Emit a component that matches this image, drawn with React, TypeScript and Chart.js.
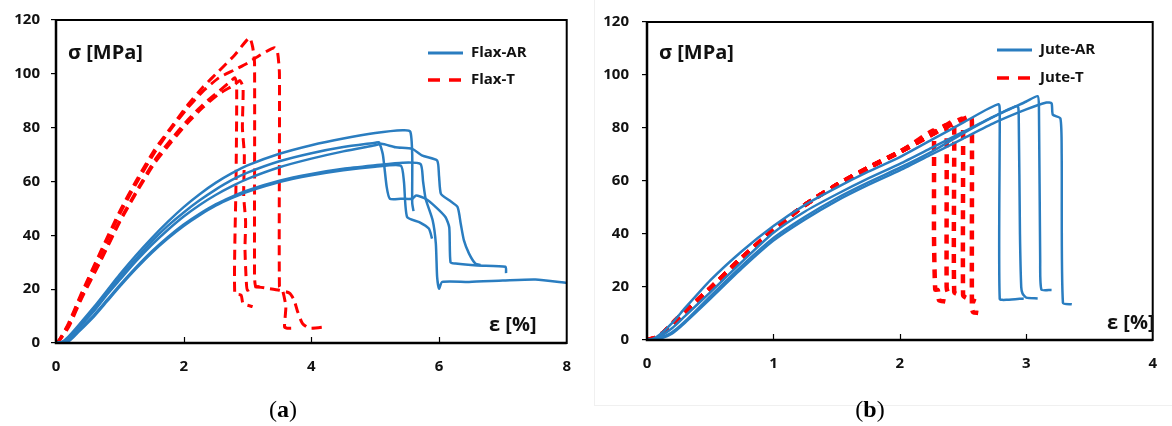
import React, { useEffect, useRef } from "react";
import { Chart, registerables } from "chart.js";

Chart.register(...registerables);

const FONT = "'Open Sans', 'Liberation Sans', 'DejaVu Sans', sans-serif";
const BLUE = "#2a7dc0";
const RED = "#ff0000";
const INK = "#111111";

// ---------- Tick values ----------
const stressTicks = [0, 20, 40, 60, 80, 100, 120];
const flaxStrainTicks = [0, 2, 4, 6, 8];
const juteStrainTicks = [0, 1, 2, 3, 4];

// ---------- Legend / titles ----------
const flaxLegend = ["Flax-AR", "Flax-T"];
const juteLegend = ["Jute-AR", "Jute-T"];
const stressTitle = "σ [MPa]";
const strainTitle = "ε [%]";
const captions = ["a", "b"];

// ---------- (a) Flax-AR specimens ----------
const flaxAR1X = [0, 0.1, 0.2, 0.35, 0.6, 0.8, 1.0, 1.25, 1.5, 1.75, 2.0, 2.25, 2.5, 2.75, 3.0, 3.5, 4.0, 4.5, 5.0, 5.43, 5.55, 5.58, 5.58, 5.6];
const flaxAR1Y = [0, 0.5, 2.5, 6.5, 13.5, 19.5, 25.5, 32.5, 39, 45, 50.5, 55.3, 59.5, 63, 66, 70.3, 73.5, 76, 78, 79, 78.5, 70, 52, 49];

const flaxAR2X = [0, 0.1, 0.2, 0.35, 0.6, 0.8, 1.0, 1.25, 1.5, 1.75, 2.0, 2.25, 2.5, 2.75, 3.0, 3.5, 4.0, 4.5, 5.0, 5.06, 5.12, 5.18, 5.23, 5.4, 5.58, 5.64, 5.79, 5.95, 6.1, 6.16, 6.18, 6.26, 6.6, 7.04, 7.05];
const flaxAR2Y = [0, 0.3, 2, 6, 12.5, 18.5, 24.5, 31.3, 37.8, 43.5, 48.5, 53, 57, 60.5, 63.3, 67.5, 70.5, 72.8, 74.4, 74.6, 70, 58, 53.6, 53.6, 53.6, 54.8, 53.6, 50.5, 46.8, 43, 30, 29.5, 28.8, 28.3, 26];

const flaxAR3X = [0, 0.1, 0.2, 0.35, 0.6, 0.8, 1.0, 1.25, 1.5, 1.75, 2.0, 2.25, 2.5, 2.75, 3.0, 3.5, 4.0, 4.5, 5.0, 5.1, 5.32, 5.58, 5.74, 5.97, 6.0, 6.03, 6.16, 6.29, 6.34, 6.39, 6.47, 6.57, 6.65];
const flaxAR3Y = [0, 0.2, 1.8, 5.5, 12, 18, 23.5, 30.3, 36.5, 42, 47, 51.3, 55, 58.2, 61, 65.3, 68.5, 71.2, 73.5, 74, 72.7, 72.1, 69.6, 67.8, 62, 55.4, 53, 50.5, 44.3, 38.1, 33.2, 29.5, 29];

const flaxAR4X = [0, 0.12, 0.22, 0.35, 0.6, 0.8, 1.0, 1.25, 1.5, 1.75, 2.0, 2.25, 2.5, 2.75, 3.0, 3.5, 4.0, 4.5, 5.0, 5.43, 5.71, 5.75, 5.79, 5.9, 5.95, 5.97, 6.0, 6.05, 6.47, 7.0, 7.51, 8.0];
const flaxAR4Y = [0, 0, 1.2, 4.5, 10.5, 16, 21.5, 28, 34, 39.3, 44, 48, 51.5, 54.3, 56.7, 60.3, 62.8, 64.7, 66, 67, 66.5, 60, 53.6, 45.6, 36.9, 24.6, 20.2, 22.7, 22.7, 23.2, 23.6, 22.3];

const flaxAR5X = [0, 0.12, 0.22, 0.35, 0.6, 0.8, 1.0, 1.25, 1.5, 1.75, 2.0, 2.25, 2.5, 2.75, 3.0, 3.5, 4.0, 4.5, 5.0, 5.4, 5.45, 5.5, 5.69, 5.84, 5.89];
const flaxAR5Y = [0, 0, 1, 4, 10, 15.5, 21, 27.5, 33.5, 38.8, 43.5, 47.5, 51, 53.8, 56.2, 59.8, 62.3, 64.2, 65.5, 65.9, 60, 46.8, 44.9, 42.5, 38.8];

// ---------- (a) Flax-T specimens ----------
const flaxT1X = [0, 0.05, 0.2, 0.4, 0.7, 1.0, 1.25, 1.55, 1.8, 2.05, 2.3, 2.55, 2.8, 3.03, 3.08, 3.11, 3.11, 3.13, 3.24];
const flaxT1Y = [0, 1, 7.5, 18.5, 34, 49, 60, 72, 80, 88, 95, 101, 107, 113.4, 110, 104, 25, 21, 21];

const flaxT2X = [0, 0.05, 0.2, 0.4, 0.7, 1.0, 1.25, 1.55, 1.8, 2.05, 2.3, 2.55, 2.8, 3.0, 3.2, 3.42, 3.47, 3.5, 3.5, 3.55, 3.6, 3.58, 3.62, 3.73];
const flaxT2Y = [0, 1, 7, 18, 33, 48, 59, 71, 79.5, 87, 93.5, 98.5, 101.5, 104, 107, 109.7, 108, 100, 21, 19.5, 13.5, 6, 5.5, 5.5];

const flaxT3X = [0, 0.05, 0.2, 0.4, 0.7, 1.0, 1.25, 1.55, 1.8, 2.05, 2.3, 2.55, 2.75, 2.8, 2.83, 2.82, 2.8, 2.9, 2.93, 3.08];
const flaxT3Y = [0, 1, 6.5, 17, 31, 45.5, 56, 68, 75.5, 82.5, 88.5, 93.5, 97.5, 98.6, 96, 60, 18.4, 17.8, 14.7, 13.5];

const flaxT4X = [0, 0.05, 0.2, 0.4, 0.7, 1.0, 1.25, 1.55, 1.8, 2.05, 2.3, 2.55, 2.8, 2.88, 2.93, 2.92, 2.95, 2.94, 2.97, 2.96, 2.98, 3.0, 3.11, 3.34, 3.5, 3.66, 3.73, 3.78, 3.86, 3.97, 4.23];
const flaxT4Y = [0, 0.8, 6, 16.5, 30.5, 45, 55.5, 67, 74.5, 81.5, 87.5, 92.5, 96, 97.5, 95, 80, 70, 55, 45, 35, 23.3, 19.6, 20.9, 20.2, 19.6, 18.5, 15.9, 12, 7.3, 5.5, 6];

// ---------- (b) Jute-AR specimens ----------
const juteAR1X = [0, 0.05, 0.1, 0.2, 0.3, 0.5, 0.75, 1.0, 1.25, 1.5, 1.75, 2.0, 2.25, 2.5, 2.78, 2.79, 2.79, 2.85, 2.98];
const juteAR1Y = [0, 0.5, 2, 6.5, 12, 22.5, 33.5, 43, 51, 57.5, 63.5, 69, 75.5, 82, 89, 85, 15.5, 15.2, 15.7];

const juteAR2X = [0, 0.05, 0.1, 0.2, 0.3, 0.5, 0.75, 1.0, 1.25, 1.5, 1.75, 2.0, 2.25, 2.5, 2.75, 2.93, 2.94, 2.95, 2.96, 2.97, 3.0, 3.09];
const juteAR2Y = [0, 0.3, 1.2, 4.5, 9, 18, 29.5, 40.5, 48.5, 55, 61, 66.5, 72.5, 78.5, 84.5, 88.3, 85, 40, 20, 17.6, 16, 15.7];

const juteAR3X = [0, 0.05, 0.1, 0.2, 0.3, 0.5, 0.75, 1.0, 1.25, 1.5, 1.75, 2.0, 2.25, 2.5, 2.75, 3.0, 3.09, 3.1, 3.11, 3.12, 3.2];
const juteAR3Y = [0, 0, 0.6, 3, 7, 16.5, 28, 38.5, 46.5, 53.5, 59.5, 65, 71, 78, 84.5, 90, 92, 88, 30, 19, 18.9];

const juteAR4X = [0, 0.05, 0.1, 0.2, 0.3, 0.5, 0.75, 1.0, 1.25, 1.5, 1.75, 2.0, 2.25, 2.5, 2.75, 3.0, 3.16, 3.2, 3.21, 3.27, 3.28, 3.29, 3.36];
const juteAR4Y = [0, 0, 0.4, 2.5, 6.5, 15.5, 27, 37.5, 45.5, 52.5, 58.5, 64, 70, 76, 82, 87, 89.6, 89.3, 85, 83.6, 70, 14, 13.5];

// ---------- (b) Jute-T specimens ----------
const juteT1X = [0, 0.05, 0.1, 0.25, 0.5, 0.75, 1.0, 1.25, 1.5, 1.75, 2.0, 2.26, 2.27, 2.27, 2.28, 2.3, 2.31, 2.36];
const juteT1Y = [0, 0.5, 1.5, 8.5, 19.5, 31, 41.5, 51, 58.5, 65, 71, 79, 78, 40, 19, 18.9, 15, 14.5];

const juteT2X = [0, 0.05, 0.1, 0.25, 0.5, 0.75, 1.0, 1.25, 1.5, 1.75, 2.0, 2.25, 2.36, 2.37, 2.37, 2.38, 2.42];
const juteT2Y = [0, 0.5, 1.5, 8.5, 19.5, 31, 41.5, 51, 58.5, 65, 71, 77.5, 81, 79, 20, 18, 17.5];

const juteT3X = [0, 0.05, 0.1, 0.25, 0.5, 0.75, 1.0, 1.25, 1.5, 1.75, 2.0, 2.25, 2.42, 2.43, 2.43, 2.47];
const juteT3Y = [0, 0.5, 1.5, 8.5, 19.5, 31, 41.5, 51, 58.5, 65, 71, 77.5, 82.5, 80, 18, 17];

const juteT4X = [0, 0.05, 0.1, 0.25, 0.5, 0.75, 1.0, 1.25, 1.5, 1.75, 2.0, 2.25, 2.49, 2.5, 2.5, 2.52, 2.6];
const juteT4Y = [0, 0.5, 1.5, 8.5, 19.5, 31, 41.5, 51, 58.5, 65, 71, 77.5, 83.5, 81, 17, 16, 14.5];

const juteT5X = [0, 0.05, 0.1, 0.25, 0.5, 0.75, 1.0, 1.25, 1.5, 1.75, 2.0, 2.25, 2.56, 2.57, 2.57, 2.58, 2.62];
const juteT5Y = [0, 0.5, 1.5, 8.5, 19.5, 31, 41.5, 51, 58.5, 65, 71, 77.5, 84.5, 82, 12, 10.5, 10.2];

// ---------- helpers ----------
type Pt = { x: number; y: number };
const zip = (xs: number[], ys: number[]): Pt[] => xs.map((x, i) => ({ x, y: ys[i] }));

type PanelSpec = {
  ar: Pt[][];
  t: Pt[][];
  legend: string[];
  xTicks: number[];
  width: number;
  height: number;
  area: { left: number; top: number; right: number; bottom: number };
  yLabelPad: number;
  dash: number[];
  dashWidth: number;
  arWidth: number;
  legendX: number;
  legendY: [number, number];
  sigmaPos: [number, number];
  epsPos: [number, number];
};

function decorPlugin(spec: PanelSpec) {
  return {
    id: "decor",
    afterDraw(chart: any) {
      const { ctx, chartArea: a, scales } = chart;
      ctx.save();
      // frame
      ctx.strokeStyle = "#000";
      ctx.lineWidth = 2;
      ctx.setLineDash([]);
      ctx.strokeRect(a.left, a.top, a.right - a.left, a.bottom - a.top);
      ctx.lineWidth = 2.5;
      ctx.beginPath();
      ctx.moveTo(a.left, a.top);
      ctx.lineTo(a.left, a.bottom);
      ctx.lineTo(a.right, a.bottom);
      ctx.stroke();
      // inner x ticks
      ctx.lineWidth = 1.2;
      for (const v of spec.xTicks) {
        const px = Math.round(scales.x.getPixelForValue(v)) + 0.5;
        if (px > a.left + 2 && px < a.right - 2) {
          ctx.beginPath();
          ctx.moveTo(px, a.bottom);
          ctx.lineTo(px, a.bottom - 6);
          ctx.stroke();
        }
      }
      // axis titles
      ctx.fillStyle = INK;
      ctx.textBaseline = "middle";
      ctx.textAlign = "left";
      ctx.font = `bold 20px ${FONT}`;
      ctx.fillText(stressTitle, spec.sigmaPos[0], spec.sigmaPos[1]);
      ctx.fillText(strainTitle, spec.epsPos[0], spec.epsPos[1]);
      // legend
      const lx = spec.legendX;
      ctx.font = `bold 15px ${FONT}`;
      ctx.strokeStyle = BLUE;
      ctx.lineWidth = 3;
      ctx.beginPath();
      ctx.moveTo(lx, spec.legendY[0]);
      ctx.lineTo(lx + 35, spec.legendY[0]);
      ctx.stroke();
      ctx.strokeStyle = RED;
      ctx.lineWidth = 3.5;
      ctx.setLineDash([12, 9]);
      ctx.beginPath();
      ctx.moveTo(lx, spec.legendY[1]);
      ctx.lineTo(lx + 35, spec.legendY[1]);
      ctx.stroke();
      ctx.setLineDash([]);
      ctx.fillStyle = INK;
      ctx.fillText(spec.legend[0], lx + 43, spec.legendY[0]);
      ctx.fillText(spec.legend[1], lx + 43, spec.legendY[1]);
      ctx.restore();
    },
  };
}

function Panel({ spec }: { spec: PanelSpec }) {
  const ref = useRef<HTMLCanvasElement | null>(null);
  useEffect(() => {
    if (!ref.current) return;
    const datasets: any[] = [];
    spec.ar.forEach((d, i) =>
      datasets.push({
        label: `${spec.legend[0]} ${i + 1}`,
        data: d,
        borderColor: BLUE,
        backgroundColor: BLUE,
        borderWidth: spec.arWidth,
        pointRadius: 0,
        tension: 0.2,
        fill: false,
      })
    );
    spec.t.forEach((d, i) =>
      datasets.push({
        label: `${spec.legend[1]} ${i + 1}`,
        data: d,
        borderColor: RED,
        backgroundColor: RED,
        borderWidth: spec.dashWidth,
        borderDash: spec.dash,
        pointRadius: 0,
        tension: 0.2,
        fill: false,
      })
    );
    const xMin = spec.xTicks[0];
    const xMax = spec.xTicks[spec.xTicks.length - 1];
    const tickFont = { family: FONT, size: 15, weight: "bold" };
    const chart = new Chart(ref.current, {
      type: "line",
      data: { datasets },
      options: {
        animation: false,
        responsive: false,
        devicePixelRatio: 1,
        layout: {
          padding: {
            left: 0,
            top: spec.area.top,
            right: spec.width - spec.area.right,
            bottom: 0,
          },
        },
        plugins: { legend: { display: false }, tooltip: { enabled: false } },
        scales: {
          x: {
            type: "linear",
            min: xMin,
            max: xMax,
            afterFit: (s: any) => {
              s.height = spec.height - spec.area.bottom;
            },
            afterBuildTicks: (s: any) => {
              s.ticks = spec.xTicks.map((v) => ({ value: v }));
            },
            grid: { display: false, drawTicks: false },
            border: { display: true, color: "#000", width: 2 },
            ticks: { padding: 15, color: INK, font: tickFont },
          },
          y: {
            type: "linear",
            min: stressTicks[0],
            max: stressTicks[stressTicks.length - 1],
            afterFit: (s: any) => {
              s.width = spec.area.left;
            },
            afterBuildTicks: (s: any) => {
              s.ticks = stressTicks.map((v) => ({ value: v }));
            },
            grid: {
              display: true,
              drawOnChartArea: false,
              drawTicks: true,
              tickLength: 5,
              color: "#000",
              lineWidth: 1.2,
            },
            border: { display: true, color: "#000", width: 2 },
            ticks: { padding: spec.yLabelPad, color: INK, font: tickFont },
          },
        },
      } as any,
      plugins: [decorPlugin(spec) as any],
    });
    return () => chart.destroy();
  }, [spec]);
  return (
    <canvas
      ref={ref}
      width={spec.width}
      height={spec.height}
      style={{ width: spec.width, height: spec.height, display: "block" }}
    />
  );
}

const flaxSpec: PanelSpec = {
  ar: [zip(flaxAR1X, flaxAR1Y), zip(flaxAR2X, flaxAR2Y), zip(flaxAR3X, flaxAR3Y), zip(flaxAR4X, flaxAR4Y), zip(flaxAR5X, flaxAR5Y)],
  t: [zip(flaxT1X, flaxT1Y), zip(flaxT2X, flaxT2Y), zip(flaxT3X, flaxT3Y), zip(flaxT4X, flaxT4Y)],
  legend: flaxLegend,
  xTicks: flaxStrainTicks,
  width: 586,
  height: 426,
  area: { left: 56, top: 19, right: 569, bottom: 343 },
  yLabelPad: 11,
  dash: [10, 6],
  dashWidth: 3,
  arWidth: 2.5,
  legendX: 428,
  legendY: [53, 80],
  sigmaPos: [68, 53],
  epsPos: [489, 325],
};

const juteSpec: PanelSpec = {
  ar: [zip(juteAR1X, juteAR1Y), zip(juteAR2X, juteAR2Y), zip(juteAR3X, juteAR3Y), zip(juteAR4X, juteAR4Y)],
  t: [zip(juteT1X, juteT1Y), zip(juteT2X, juteT2Y), zip(juteT3X, juteT3Y), zip(juteT4X, juteT4Y), zip(juteT5X, juteT5Y)],
  legend: juteLegend,
  xTicks: juteStrainTicks,
  width: 586,
  height: 426,
  area: { left: 61, top: 22, right: 579, bottom: 340 },
  yLabelPad: 13,
  dash: [9, 7],
  dashWidth: 4.5,
  arWidth: 2.5,
  legendX: 411,
  legendY: [50, 78],
  sigmaPos: [73, 53],
  epsPos: [521, 323],
};

export default function App() {
  const capStyle = (cx: number): React.CSSProperties => ({
    position: "absolute",
    left: cx - 40,
    width: 80,
    top: 394,
    textAlign: "center",
    fontFamily: "'Liberation Serif', 'DejaVu Serif', serif",
    fontSize: 24,
    lineHeight: "30px",
    color: "#000",
  });
  return (
    <div
      style={{
        position: "fixed",
        left: 0,
        top: 0,
        width: 1172,
        height: 426,
        background: "#fff",
        overflow: "hidden",
      }}
    >
      <div
        style={{
          position: "absolute",
          left: 594,
          top: -1,
          width: 590,
          height: 406,
          borderLeft: "1px solid #f0f0f0",
          borderBottom: "1px solid #f0f0f0",
        }}
      />
      <div style={{ position: "absolute", left: 0, top: 0 }}>
        <Panel spec={flaxSpec} />
      </div>
      <div style={{ position: "absolute", left: 586, top: 0 }}>
        <Panel spec={juteSpec} />
      </div>
      <div style={capStyle(283)}>
        (<b>{captions[0]}</b>)
      </div>
      <div style={capStyle(870)}>
        (<b>{captions[1]}</b>)
      </div>
    </div>
  );
}
